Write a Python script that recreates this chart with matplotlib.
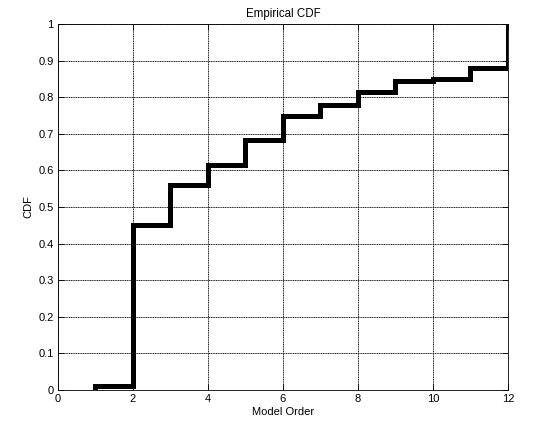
import matplotlib
matplotlib.use('Agg')
import matplotlib.pyplot as plt
import numpy as np

# model orders and empirical CDF value after each order
orders = [1, 2, 3, 4, 5, 6, 7, 8, 9, 10, 11, 12]
cdf = [0.011, 0.451, 0.559, 0.616, 0.683, 0.749, 0.780, 0.813, 0.844, 0.849, 0.879, 1.0]

x_ticks = [0, 2, 4, 6, 8, 10, 12]
y_ticks = [0, 0.1, 0.2, 0.3, 0.4, 0.5, 0.6, 0.7, 0.8, 0.9, 1]
y_labels = ['0', '0.1', '0.2', '0.3', '0.4', '0.5', '0.6', '0.7', '0.8', '0.9', '1']

plt.rcParams['font.family'] = ['Liberation Sans', 'DejaVu Sans']
plt.rcParams['font.size'] = 8

fig = plt.figure(figsize=(5.49, 4.32), dpi=100)
ax = fig.add_axes([0.1056, 0.0972, 0.8197, 0.8472])

xs = np.r_[orders[0], orders]
ys = np.r_[0, cdf]
ax.step(xs, ys, where='post', color='k', linewidth=3.6, solid_joinstyle='miter')

ax.set_xlim(0, 12)
ax.set_ylim(0, 1)
ax.set_xticks(x_ticks)
ax.set_yticks(y_ticks)
ax.set_yticklabels(y_labels)
ax.tick_params(direction='in', top=True, right=True, length=4, width=0.6, colors='k', pad=3)
ax.grid(True, color='#222222', linestyle=(0, (1.2, 0.6)), linewidth=0.7)
for s in ax.spines.values():
    s.set_linewidth(0.6)

ax.set_title('Empirical CDF', fontsize=8.3, pad=5)
ax.set_xlabel('Model Order', labelpad=2)
ax.set_ylabel('CDF', labelpad=4)

fig.savefig('out.png', dpi=100)
